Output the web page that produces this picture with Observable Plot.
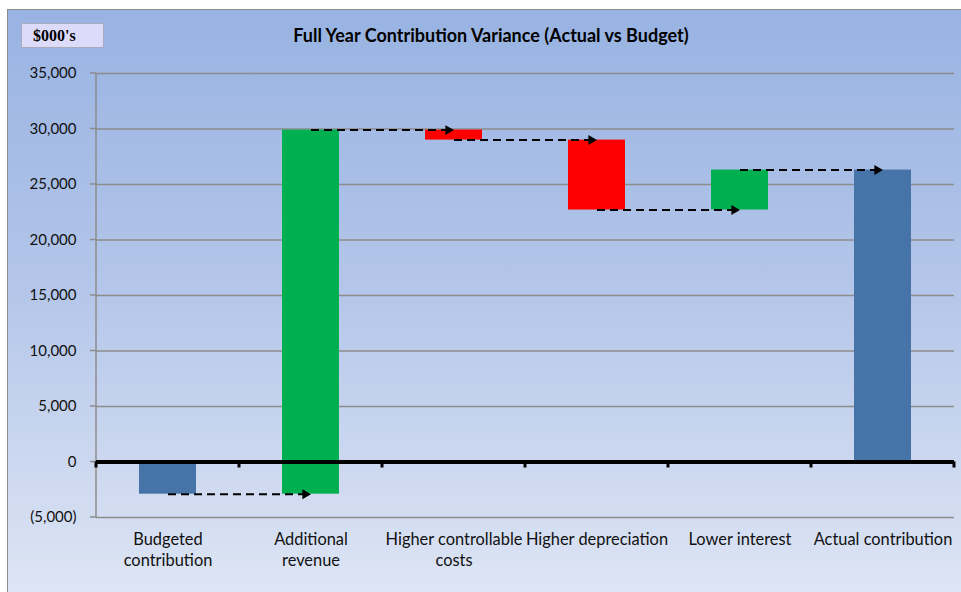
<!DOCTYPE html>
<html><head><meta charset="utf-8">
<script src="https://cdn.jsdelivr.net/npm/d3@7"></script>
<script src="https://cdn.jsdelivr.net/npm/@observablehq/plot@0.6"></script>
<style>
body{margin:0;background:#fff;}
#wrap{position:relative;width:961px;height:592px;overflow:hidden;font-family:Lato,sans-serif;}
#bg{position:absolute;left:7px;top:9px;width:960px;height:600px;border-top:1px solid #8c8c8c;border-left:1px solid #8c8c8c;background:linear-gradient(to bottom,#98b3e2 0%,#b3c5e9 45%,#e0e7f5 100%);}
#unit{position:absolute;left:21px;top:23px;width:83px;height:25px;box-sizing:border-box;background:#dcdcfa;border:1px solid #a9abbf;font-family:"Liberation Serif","DejaVu Serif",serif;font-weight:bold;font-size:16px;line-height:24px;padding-left:11px;color:#000;}
#title{position:absolute;left:0;top:24px;width:982px;text-align:center;font-family:Lato,sans-serif;font-weight:bold;font-size:18px;line-height:22px;color:#000;}
#chart{position:absolute;left:0;top:0;}
</style></head>
<body>
<div id="wrap">
  <div id="bg"></div>
  <div id="chart"></div>
  <div id="unit">$000's</div>
  <div id="title">Full Year Contribution Variance (Actual vs Budget)</div>
</div>
<script>
const categories = ["Budgeted contribution","Additional revenue","Higher controllable costs","Higher depreciation","Lower interest","Actual contribution"];
const tickLabels = ["Budgeted\ncontribution","Additional\nrevenue","Higher controllable\ncosts","Higher depreciation","Lower interest","Actual contribution"];
const values = [-2900, 32800, -900, -6300, 3600, 26300];
const kinds = ["total","increase","decrease","decrease","increase","total"];
const yTicks = [-5000,0,5000,10000,15000,20000,25000,30000,35000];
const kindColors = {total:"#4673a8", increase:"#00b050", decrease:"#ff0000"};

let run = 0;
const bars = categories.map((c,i)=>{
  let y1, y2;
  if (kinds[i] === "total") { y1 = 0; y2 = values[i]; }
  else { y1 = run; y2 = run + values[i]; }
  run = y2;
  return {category:c, y1, y2, kind:kinds[i]};
});
const links = bars.slice(0,-1).map((b,i)=>({from:b.category, to:categories[i+1], level:b.y2}));
const fmt = v => v < 0 ? "(" + d3.format(",")(-v) + ")" : d3.format(",")(v);

function decor(index, scales, values, dims) {
  const {x, y} = scales;
  const g = d3.create("svg:g");
  const left = dims.marginLeft;
  g.append("line").attr("x1",left).attr("x2",left)
    .attr("y1",y(d3.max(yTicks))).attr("y2",y(d3.min(yTicks)))
    .attr("stroke","#8c8c8c").attr("stroke-width",1.5);
  for (const t of yTicks) {
    g.append("line").attr("x1",left-6).attr("x2",left).attr("y1",y(t)).attr("y2",y(t))
      .attr("stroke","#8c8c8c").attr("stroke-width",1.5);
  }
  return g.node();
}
function zeroTicks(index, scales, values, dims) {
  const {x, y} = scales;
  const g = d3.create("svg:g");
  const bw = x.bandwidth();
  const step = x(categories[1]) - x(categories[0]);
  const start = x(categories[0]) - (step - bw) / 2;
  for (let i = 0; i <= categories.length; i++) {
    g.append("rect").attr("x", start + i*step - 1.5).attr("y", y(0)).attr("width",3).attr("height",6).attr("fill","#000");
  }
  return g.node();
}

const chart = Plot.plot({
  width: 961, height: 592,
  marginLeft: 96, marginRight: 7, marginTop: 73, marginBottom: 75,
  style: {background:"transparent", fontFamily:"Lato, sans-serif", color:"#111"},
  x: {type:"band", domain: categories, paddingInner:0.6, paddingOuter:0.3, axis:null},
  y: {domain:[-5000,35000], axis:null},
  marks: [
    Plot.ruleY(yTicks, {stroke:"#8c8c8c", strokeWidth:1.5}),
    decor,
    Plot.barY(bars, {x:"category", y1:"y1", y2:"y2", fill: d => kindColors[d.kind]}),
    Plot.ruleY([0], {stroke:"#000", strokeWidth:4}),
    zeroTicks,
    Plot.link(links, {x1:"from", x2:"to", y1:"level", y2:"level", stroke:"#000", strokeWidth:2, strokeDasharray:"8,5"}),
    Plot.dot(links, {x:"to", y:"level", symbol:"triangle", r:3.7, fill:"#000", stroke:null, rotate:90, dx:-5.75}),
    Plot.text(yTicks, {y: d=>d, text: fmt, frameAnchor:"left", textAnchor:"end", dx:-20, fontSize:15, fill:"#111"}),
    Plot.text(categories, {x: d=>d, text: (d,i)=>tickLabels[i], frameAnchor:"bottom", lineAnchor:"top", dy:13, fontSize:16.4, lineHeight:1.25, fill:"#111"})
  ]
});
document.getElementById("chart").appendChild(chart);
</script>
</body></html>
